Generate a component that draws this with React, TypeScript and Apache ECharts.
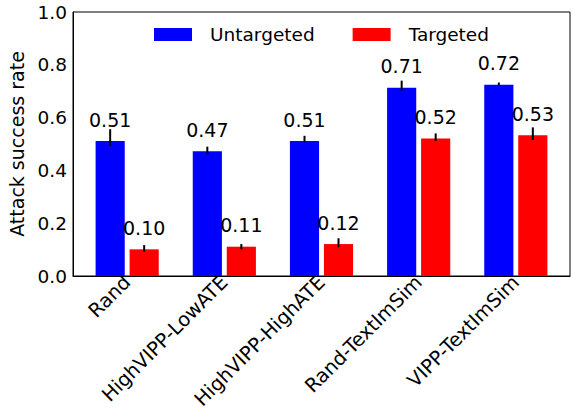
import React, { useEffect, useRef } from "react";
import * as echarts from "echarts";

const categories = ["Rand", "HighVIPP-LowATE", "HighVIPP-HighATE", "Rand-TextImSim", "VIPP-TextImSim"];
const untargeted = [0.511, 0.473, 0.511, 0.713, 0.724];
const untargetedLow = [0.492, 0.461, 0.506, 0.702, 0.722];
const untargetedHigh = [0.556, 0.49, 0.531, 0.74, 0.733];
const targeted = [0.101, 0.111, 0.121, 0.521, 0.533];
const targetedLow = [0.092, 0.101, 0.109, 0.511, 0.515];
const targetedHigh = [0.117, 0.121, 0.143, 0.54, 0.563];
const yTicks = [0, 0.2, 0.4, 0.6, 0.8, 1.0];

const FONT = "DejaVu Sans";
const BAR_W = 0.3;

function makeSeries(name: string, color: string, offset: number, vals: number[], lo: number[], hi: number[]) {
  return {
    name,
    type: "custom",
    itemStyle: { color },
    data: vals.map((v, i) => [i, v, lo[i], hi[i]]),
    renderItem: (params: any, api: any) => {
      const i = api.value(0) as number;
      const v = api.value(1) as number;
      const l = api.value(2) as number;
      const h = api.value(3) as number;
      const x = i + offset;
      const top = api.coord([x, v]);
      const base = api.coord([x, 0]);
      const eTop = api.coord([x, h]);
      const eBot = api.coord([x, l]);
      const w = api.size([BAR_W, 0])[0];
      return {
        type: "group",
        children: [
          {
            type: "rect",
            shape: { x: top[0] - w / 2, y: top[1], width: w, height: base[1] - top[1] },
            style: { fill: color },
          },
          {
            type: "line",
            shape: { x1: top[0], y1: eTop[1], x2: top[0], y2: eBot[1] },
            style: { stroke: "#000", lineWidth: 2 },
          },
          {
            type: "text",
            x: top[0],
            y: top[1] - 12,
            style: {
              text: v.toFixed(2),
              fontFamily: FONT,
              fontSize: 19,
              fill: "#000",
              align: "center",
              verticalAlign: "bottom",
            },
          },
        ],
      };
    },
  };
}

export default function App() {
  const ref = useRef<HTMLDivElement>(null);
  useEffect(() => {
    if (!ref.current) return;
    const chart = echarts.init(ref.current, null, { renderer: "svg" });
    chart.setOption({
      animation: false,
      textStyle: { fontFamily: FONT },
      grid: {
        left: 73,
        right: 3,
        top: 12,
        bottom: 136,
        containLabel: false,
        outerBoundsMode: "none",
        show: true,
        borderColor: "#000",
        borderWidth: 1,
        backgroundColor: "transparent",
      },
      legend: {
        left: 149,
        top: 20,
        itemWidth: 38,
        itemHeight: 13,
        itemGap: 38,
        icon: "rect",
        textStyle: { fontFamily: FONT, fontSize: 18.5, color: "#000", padding: [0, 0, 0, 13] },
        data: ["Untargeted", "Targeted"],
      },
      xAxis: {
        type: "value",
        min: -0.5575,
        max: 4.5575,
        splitLine: { show: false },
        axisLine: { show: true, onZero: false, lineStyle: { color: "#000", width: 1 } },
        axisTick: { show: false },
        axisLabel: {
          customValues: [0, 1, 2, 3, 4],
          rotate: 45,
          margin: 3,
          fontFamily: FONT,
          fontSize: 19.5,
          color: "#000",
          formatter: (v: number) => categories[Math.round(v)] ?? "",
        },
      },
      yAxis: {
        type: "value",
        min: 0,
        max: 1,
        interval: 0.2,
        name: "Attack success rate",
        nameLocation: "middle",
        nameGap: 44,
        nameTextStyle: { fontFamily: FONT, fontSize: 19, color: "#000" },
        splitLine: { show: false },
        axisLine: { show: true, onZero: false, lineStyle: { color: "#000", width: 1 } },
        axisTick: { show: false },
        axisLabel: {
          margin: 6,
          fontFamily: FONT,
          fontSize: 18.5,
          color: "#000",
          customValues: yTicks,
          formatter: (v: number) => v.toFixed(1),
        },
      },
      series: [
        makeSeries("Untargeted", "#0000ff", -0.175, untargeted, untargetedLow, untargetedHigh),
        makeSeries("Targeted", "#ff0000", 0.175, targeted, targetedLow, targetedHigh),
      ],
    });
    return () => chart.dispose();
  }, []);
  return <div ref={ref} style={{ width: 573, height: 412, position: "absolute", left: 0, top: 0 }} />;
}
